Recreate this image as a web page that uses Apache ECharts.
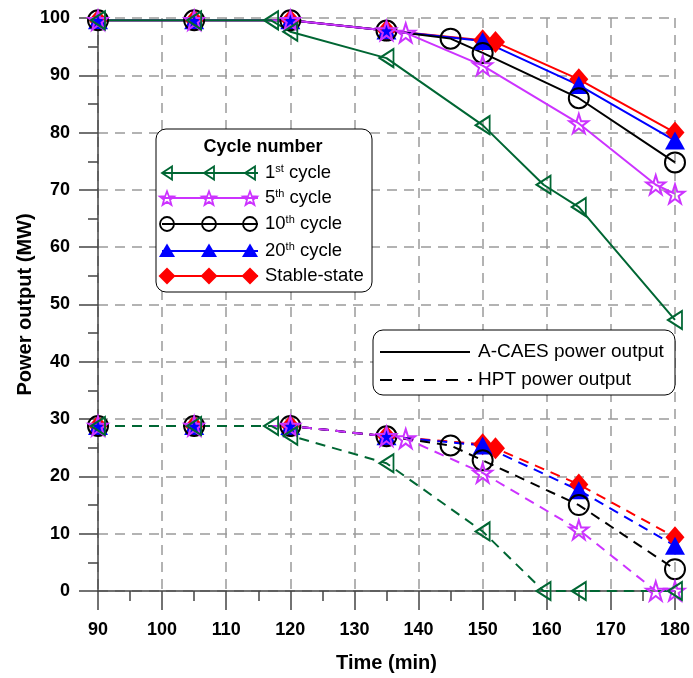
<!DOCTYPE html>
<html>
<head>
<meta charset="utf-8">
<script src="https://cdn.jsdelivr.net/npm/echarts@6/dist/echarts.min.js"></script>
<style>
html,body{margin:0;padding:0;background:#fff;}
#chart{width:693px;height:678px;}
</style>
</head>
<body>
<div id="chart"></div>
<script>
// ---------- data ----------
const xTicks = [90, 100, 110, 120, 130, 140, 150, 160, 170, 180];
const yTicks = [0, 10, 20, 30, 40, 50, 60, 70, 80, 90, 100];

// A-CAES power output (solid)
const c1Time   = [90, 105, 117, 120, 135, 150, 159.5, 165, 180];
const c1Power  = [99.6, 99.6, 99.6, 97.6, 93.0, 81.3, 70.9, 67.0, 47.3];
const c5Time   = [90, 105, 120, 135, 138, 150, 165, 177, 180];
const c5Power  = [99.6, 99.6, 99.6, 97.8, 97.4, 91.7, 81.6, 70.9, 69.3];
const c10Time  = [90, 105, 120, 135, 145, 150, 165, 180];
const c10Power = [99.6, 99.6, 99.6, 97.8, 96.4, 93.9, 86.0, 74.8];
const c20Time  = [90, 105, 120, 135, 150, 165, 180];
const c20Power = [99.6, 99.6, 99.6, 97.8, 96.0, 88.3, 78.6];
const cSTime   = [90, 105, 120, 135, 150, 152, 165, 180];
const cSPower  = [99.6, 99.6, 99.6, 97.8, 96.1, 95.8, 89.3, 80.0];

// HPT power output (dashed)
const h1Power  = [28.8, 28.8, 28.8, 27.1, 22.3, 10.4, 0, 0, 0];
const h5Power  = [28.8, 28.8, 28.8, 27.0, 26.6, 20.6, 10.7, 0, 0];
const h10Power = [28.8, 28.8, 28.8, 27.0, 25.4, 22.8, 15.0, 3.8];
const h20Power = [28.8, 28.8, 28.8, 27.0, 25.4, 17.6, 7.9];
const hSPower  = [28.8, 28.8, 28.8, 27.0, 25.6, 24.9, 18.6, 9.4];

const seriesNames = ['1st cycle', '5th cycle', '10th cycle', '20th cycle', 'Stable-state'];

// ---------- styling ----------
const FONT = '"Liberation Sans", Arial, Helvetica, sans-serif';
const GREEN = '#006633', MAG = '#cc33ff', BLACK = '#000000', BLUE = '#0000ff', RED = '#ff0000';
const STAR = 'path://M50,0 L61.2,34.5 L97.6,34.5 L68.2,55.9 L79.4,90.5 L50,69.1 L20.6,90.5 L31.8,55.9 L2.4,34.5 L38.8,34.5 Z';
const LTRI = 'path://M0,50 L100,0 L100,100 Z';
const TRANSP = 'rgba(0,0,0,0)';

function zip(t, v) { return t.map((x, i) => [x, v[i]]); }

const defs = [
  // drawn bottom -> top
  {name: seriesNames[4], color: RED,   symbol: 'diamond',  size: [19, 22], hollow: false, t: cSTime,  top: cSPower,  hpt: hSPower},
  {name: seriesNames[3], color: BLUE,  symbol: 'triangle', size: [20, 18], hollow: false, t: c20Time, top: c20Power, hpt: h20Power},
  {name: seriesNames[2], color: BLACK, symbol: 'circle',   size: 20,       hollow: true,  t: c10Time, top: c10Power, hpt: h10Power},
  {name: seriesNames[1], color: MAG,   symbol: STAR,       size: 19,       hollow: true,  t: c5Time,  top: c5Power,  hpt: h5Power},
  {name: seriesNames[0], color: GREEN, symbol: LTRI,       size: [14, 18], hollow: true,  t: c1Time,  top: c1Power,  hpt: h1Power}
];

const series = [];
function mk(d, data, dashed) {
  return {
    type: 'line',
    name: d.name + (dashed ? ' HPT' : ''),
    data: data,
    symbol: d.symbol,
    symbolSize: d.size,
    showAllSymbol: true,
    lineStyle: {color: d.color, width: 2, type: dashed ? [10, 7] : 'solid'},
    itemStyle: d.hollow
      ? {color: TRANSP, borderColor: d.color, borderWidth: 2}
      : {color: d.color, borderColor: d.color, borderWidth: 0},
    emphasis: {disabled: true},
    animation: false,
    z: 3
  };
}
defs.forEach(d => series.push(mk(d, zip(d.t, d.hpt), true)));
defs.forEach(d => series.push(mk(d, zip(d.t, d.top), false)));

// ---------- legends (graphic) ----------
const graphics = [];
const L1 = {x: 156, y: 129, w: 216, h: 163};
graphics.push({type: 'rect', shape: {x: L1.x, y: L1.y, width: L1.w, height: L1.h, r: 10},
  style: {fill: '#fff', stroke: '#000', lineWidth: 1}, z: 10});
graphics.push({type: 'text', x: 263, y: 147, z: 11,
  style: {text: 'Cycle number', font: 'bold 18px ' + FONT, fill: '#000', align: 'center', verticalAlign: 'middle'}});
const rowY = [173, 198, 224, 251, 276];
const markX = [167, 209, 250];
const labels = ['1{s|st} cycle', '5{s|th} cycle', '10{s|th} cycle', '20{s|th} cycle', 'Stable-state'];
const legendDefs = [defs[4], defs[3], defs[2], defs[1], defs[0]];
function starPts(r) {
  const p = [];
  for (let i = 0; i < 10; i++) {
    const a = -Math.PI / 2 + i * Math.PI / 5;
    const rr = i % 2 === 0 ? r : r * 0.42;
    p.push([rr * Math.cos(a), rr * Math.sin(a) + r * 0.1]);
  }
  return p;
}
function marker(kind, color, x, y) {
  const hollowStyle = {fill: 'none', stroke: color, lineWidth: 1.8};
  const fillStyle = {fill: color, stroke: color, lineWidth: 0};
  if (kind === 0) return {type: 'polygon', x, y, z: 12, shape: {points: [[-5, 0], [5, -6.5], [5, 6.5]]}, style: hollowStyle};
  if (kind === 1) return {type: 'polygon', x, y, z: 12, shape: {points: starPts(7.5)}, style: hollowStyle};
  if (kind === 2) return {type: 'circle', x, y, z: 12, shape: {cx: 0, cy: 0, r: 7}, style: hollowStyle};
  if (kind === 3) return {type: 'polygon', x, y, z: 12, shape: {points: [[0, -7.5], [8, 6], [-8, 6]]}, style: fillStyle};
  return {type: 'polygon', x, y, z: 12, shape: {points: [[0, -8.5], [8.5, 0], [0, 8.5], [-8.5, 0]]}, style: fillStyle};
}
legendDefs.forEach((d, i) => {
  const y = rowY[i];
  graphics.push({type: 'line', z: 11, shape: {x1: 162, y1: y, x2: 258, y2: y}, style: {stroke: d.color, lineWidth: 2}});
  markX.forEach(mx => graphics.push(marker(i, d.color, mx, y)));
  graphics.push({type: 'text', x: 265, y: y, z: 12,
    style: {text: labels[i], font: '18.5px ' + FONT, fill: '#000', verticalAlign: 'middle',
      rich: {s: {fontSize: 11, fontFamily: FONT, verticalAlign: 'top', lineHeight: 20, fill: '#000'}}}});
});

const L2 = {x: 373, y: 330, w: 302, h: 65};
graphics.push({type: 'rect', shape: {x: L2.x, y: L2.y, width: L2.w, height: L2.h, r: 10},
  style: {fill: '#fff', stroke: '#000', lineWidth: 1}, z: 10});
graphics.push({type: 'line', z: 11, shape: {x1: 380, y1: 352, x2: 470, y2: 352}, style: {stroke: '#000', lineWidth: 2}});
graphics.push({type: 'line', z: 11, shape: {x1: 380, y1: 380, x2: 472, y2: 380}, style: {stroke: '#000', lineWidth: 2, lineDash: [12, 10]}});
graphics.push({type: 'text', x: 478, y: 352, z: 12, style: {text: 'A-CAES power output', font: '19px ' + FONT, fill: '#000', verticalAlign: 'middle'}});
graphics.push({type: 'text', x: 478, y: 380, z: 12, style: {text: 'HPT power output', font: '19px ' + FONT, fill: '#000', verticalAlign: 'middle'}});

// ---------- chart ----------
const chart = echarts.init(document.getElementById('chart'), null, {renderer: 'canvas'});
const axisCommon = {
  type: 'value',
  axisLine: {show: true, onZero: false, lineStyle: {color: '#444', width: 1.5}},
  axisTick: {show: true, inside: false, length: 19, lineStyle: {color: '#444', width: 1.5}},
  minorTick: {show: true, splitNumber: 2, length: 10, lineStyle: {color: '#444', width: 1.5}},
  splitLine: {show: true, lineStyle: {color: '#9a9a9a', width: 1.5, type: [10, 7]}},
  axisLabel: {color: '#000', fontSize: 18, fontWeight: 'bold', fontFamily: FONT},
  nameTextStyle: {color: '#000', fontSize: 20, fontWeight: 'bold', fontFamily: FONT},
  nameMoveOverlap: false
};
chart.setOption({
  backgroundColor: '#fff',
  animation: false,
  grid: {left: 98, right: 15, top: 18, bottom: 85, containLabel: false},
  xAxis: Object.assign({}, axisCommon, {
    min: xTicks[0], max: xTicks[xTicks.length - 1], interval: 10,
    name: 'Time (min)', nameLocation: 'middle', nameGap: 62,
    axisLabel: Object.assign({}, axisCommon.axisLabel, {margin: 30})
  }),
  yAxis: Object.assign({}, axisCommon, {
    min: yTicks[0], max: yTicks[yTicks.length - 1], interval: 10,
    name: 'Power output (MW)', nameLocation: 'middle', nameGap: 63, nameRotate: 90,
    axisLabel: Object.assign({}, axisCommon.axisLabel, {margin: 28})
  }),
  series: series,
  graphic: graphics
});
</script>
</body>
</html>
